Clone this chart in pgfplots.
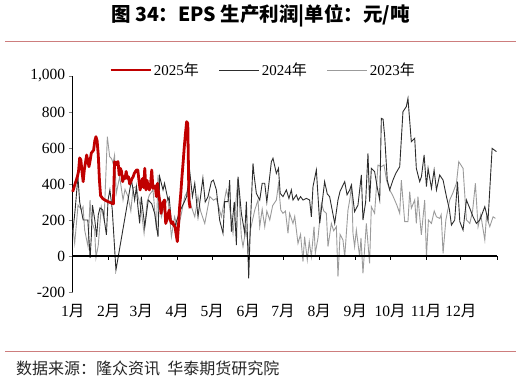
\documentclass[border=0pt]{standalone}
\usepackage{pgfplots}
\pgfplotsset{compat=1.18}
\usepackage{pgfplotstable}
\usepackage{fontspec}
\setmainfont{Liberation Serif}
\newfontfamily\cjk{Noto Sans CJK SC}
\definecolor{redline}{RGB}{192,0,0}
\definecolor{darkline}{RGB}{45,45,45}
\definecolor{grayline}{RGB}{155,155,155}
\definecolor{rulecol}{RGB}{205,125,125}

\pgfplotstableread{
day val
0 357
2 400
4 440
5 470
6 545
7 535
8 470
9 413
10 480
11 520
12 561
13 530
14 496
15 530
16 572
17 580
18 589
19 640
20 663
21 640
22 560
23 420
24 335
26 318
28 310
30 303
32 298
34 292
35 290
36 524
37 505
38 520
39 524
40 450
41 487
42 470
43 413
44 441
45 430
46 470
47 431
48 440
49 400
50 413
51 430
52 440
53 459
54 470
55 478
56 478
57 420
58 367
59 400
60 430
61 380
62 487
63 367
64 420
65 380
66 367
67 400
68 478
69 376
70 380
71 390
72 330
73 404
74 340
75 300
76 237
77 280
78 300
79 311
80 181
81 200
82 230
83 255
84 200
85 181
86 190
87 170
88 163
89 120
90 80
91 170
92 274
93 350
94 441
95 520
96 607
97 680
98 746
99 737
100 311
101 265
}\dataA

\pgfplotstableread{
day val
0 126
2 250
4.5 441
6 300
9 200
13 200
15 -10
16 107
17 283
19 200
20.6 107
22 228
23.5 267
26 255
29 117
30.4 311
32 367
34 260
37.2 -78
50.5 422
52 367
53.3 311
54.8 385
56 280
57.6 181
59 330
62 163
65 311
68 290
70.5 237
73.4 107
74.8 441
77.7 367
79 404
82 311
83 325
85 181
87.7 163
90.6 218
93 260
96 300
98 330
100.7 469
103 330
105 404
107.8 218
110.7 367
112 433
114 300
116.4 330
119.3 413
121 422
123.6 367
126.4 200
129.3 126
130.7 302
133.6 302
135 422
136.5 135
139 300
140.8 61
142.2 441
145.1 237
148 126
149.4 302
151.4 -124
153 200
155.1 515
156 450
158 348
160.9 311
163 404
165.2 404
167 300
170.9 524
172.3 543
175.2 459
177 487
178.5 348
180.9 330
183.8 367
186 320
188.1 367
189.5 311
192.4 339
194 310
196 330
198.1 311
201 320
203.8 311
205.3 218
206.7 385
209.6 478
212.5 181
216.7 413
219 345
221 330
225.4 181
228.2 311
230 360
234 413
236 340
238.3 367
239.7 394
242.5 246
245.4 283
248.3 450
249.7 200
252 300
254 570
255.4 302
256.9 487
259.7 469
262 380
264.1 311
265.5 765
267 760
268.4 663
270.6 422
272.7 367
275.5 422
278 460
281.3 496
284.1 802
287 830
288.4 876
291.3 635
294.2 654
295.6 487
298.5 413
300 441
302.3 561
304.3 385
305.7 487
308.6 376
310.9 478
312.9 367
315.7 450
318.6 422
321.5 330
324 260
325.8 172
328.6 200
331 413
333 191
335.8 144
338.7 311
341.6 265
344.4 218
347.3 181
350.2 200
354.5 274
357.3 200
360.8 598
364.5 580
}\dataB

\pgfplotstableread{
day val
0.3 144
1.7 70
4.6 283
7.7 256
8.9 274
10.3 144
13.2 52
14.9 311
16 200
18.9 144
20 -10
22 60
24.6 274
27 200
29.8 663
31.8 552
33.5 540
34.7 515
36 560
37.5 348
40.4 441
43.3 311
45 370
47.6 330
50 250
52 380
54.8 385
56.2 330
59 255
61.4 126
64 300
66 340
69.1 367
72 144
73.4 450
76.3 218
79 280
82 320
84.9 107
87.7 218
90.6 144
93 220
96.4 330
99.2 367
102.1 274
105 218
107.8 330
110 250
113.6 181
117.9 330
121 310
123.6 320
127.9 218
132.2 367
134 320
137.9 126
142.2 431
145.1 107
146.5 52
149 150
151.4 33
153 150
156.6 255
159.4 311
160.9 163
163 260
165.2 163
167 250
169.5 200
172 280
175.2 311
177 400
179 255
180.9 237
183 250
185.2 126
186.6 237
189.5 181
191 220
193.8 70
196 120
198.1 -31
199.5 107
201.8 -22
203.5 80
205.3 -4
207.6 163
208.7 15
211 100
213.9 293
216 250
218.2 237
219.6 52
222.5 181
224.5 140
226.8 163
228.2 -115
230 120
232.5 89
234 -4
236.8 255
238.5 320
240 400
241.1 126
242.5 52
244 144
246.8 -4
248 100
249.7 -96
252.6 181
255.4 -41
256.9 274
259.7 237
262.6 505
265.5 496
267.8 506
270 420
272.7 367
275 340
277 311
279 280
281.3 237
282.7 422
285.6 191
288.4 191
289.9 357
291.3 265
294.2 311
295.6 181
297 330
299.9 117
302.8 311
304.3 -4
306 200
308.6 181
311 250
312.9 218
315.7 209
317 230
318.6 15
321 200
324.3 311
327 350
330.1 404
332.1 524
335.8 487
338.7 200
341.6 181
344 250
346.4 404
348.7 163
351 230
354.5 89
355.9 218
358.8 163
361.6 218
363.6 209
}\dataC

\begin{document}
\begin{tikzpicture}
\useasboundingbox (0,0) rectangle (521pt,-381pt);
\node[font=\cjk\bfseries\fontsize{19.5}{21}\selectfont, inner sep=0] at (260.5pt,-16pt) {图 34：EPS 生产利润|单位：元/吨};
\draw[rulecol, line width=1.6pt] (5pt,-41.5pt) -- (516pt,-41.5pt);
\draw[rulecol, line width=1.6pt] (5pt,-351.5pt) -- (516pt,-351.5pt);
\node[anchor=west, font=\cjk\fontsize{16}{18}\selectfont, text=black!85, inner sep=0] at (16pt,-368pt) {数据来源：隆众资讯\hspace{0.45em}华泰期货研究院};
\begin{axis}[
  at={(72.7pt,-292pt)}, anchor=south west,
  scale only axis, width=424.3pt, height=216pt,
  xmin=0, xmax=365, ymin=-200, ymax=1000,
  axis y line=left, axis x line=bottom,
  axis line style={-, line width=1.2pt},
  x axis line style={draw=none},
  ytick={-200,0,200,400,600,800,1000},
  xtick={0,31,59,90,120,151,181,212,243,273,304,334},
  xticklabels={1{\cjk 月},2{\cjk 月},3{\cjk 月},4{\cjk 月},5{\cjk 月},6{\cjk 月},7{\cjk 月},8{\cjk 月},9{\cjk 月},10{\cjk 月},11{\cjk 月},12{\cjk 月}},
  xtick style={draw=none},
  ytick style={line width=1pt},
  tick align=outside,
  major tick length=4pt,
  tick label style={font=\fontsize{15.5}{17}\selectfont},
  /pgf/number format/assume math mode=true,
  xticklabel style={yshift=-5pt},
  legend style={at={(0.4485,1.028)}, anchor=center, draw=none, fill=none,
    font=\fontsize{15}{17}\selectfont,
    /tikz/every even column/.append style={column sep=18pt}},
  legend columns=3,
  legend image code/.code={\draw[#1] (0pt,0pt) -- (40pt,0pt);},
  reverse legend,
  clip=false,
]
\addplot[grayline, line width=0.9pt] table[x=day,y=val] {\dataC};
\addlegendentry{2023{\cjk 年}}
\addplot[darkline, line width=0.9pt] table[x=day,y=val] {\dataB};
\addlegendentry{2024{\cjk 年}}
\addplot[redline, line width=2.8pt, line join=round] table[x=day,y=val] {\dataA};
\addlegendentry{2025{\cjk 年}}
\draw[line width=1.2pt] (axis cs:0,0) -- (axis cs:365,0);
\pgfplotsinvokeforeach{0,31,59,90,120,151,181,212,243,273,304,334,365}{
  \draw[line width=1pt] (axis cs:#1,0) -- ++(0pt,-4pt);
}
\end{axis}
\end{tikzpicture}
\end{document}
